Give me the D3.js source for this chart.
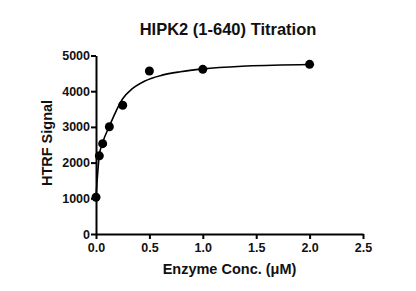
<!DOCTYPE html>
<html>
<head>
<meta charset="utf-8">
<script src="https://cdn.jsdelivr.net/npm/d3@7"></script>
<style>
  body { margin: 0; background: #fff; }
  svg text { font-family: "Liberation Sans", Arial, sans-serif; font-weight: bold; fill: #111; }
</style>
</head>
<body>
<svg width="416" height="291"></svg>
<script>
// measured points
const conc = [0, 0.03125, 0.0625, 0.125, 0.25, 0.5, 1, 2];
const signal = [1030, 2190, 2530, 3005, 3605, 4566, 4613, 4753];

// fitted curve
const fitX = [0, 0.031, 0.0625, 0.125, 0.25, 0.34, 0.46, 0.62, 0.79, 1.0, 1.41, 2.0];
const fitY = [1030, 2200, 2560, 3020, 3790, 4070, 4290, 4450, 4546, 4625, 4705, 4750];

const xTicks = [0, 0.5, 1, 1.5, 2, 2.5];
const yTicks = [0, 1000, 2000, 3000, 4000, 5000];

const svg = d3.select('svg');
const margin = {left: 96, right: 53, top: 55.5, bottom: 57};
const width = 416 - margin.left - margin.right;
const height = 291 - margin.top - margin.bottom;

const x = d3.scaleLinear().domain([0, 2.5]).range([0, width]);
const y = d3.scaleLinear().domain([0, 5000]).range([height, 0]);

const g = svg.append('g')
  .attr('transform', `translate(${margin.left},${margin.top})`);

const xAxis = g.append('g')
  .attr('transform', `translate(0,${height})`)
  .call(d3.axisBottom(x).tickValues(xTicks).tickFormat(d3.format('.1f'))
    .tickSize(5).tickSizeOuter(0).tickPadding(4));

const yAxis = g.append('g')
  .call(d3.axisLeft(y).tickValues(yTicks).tickFormat(d => d)
    .tickSize(5).tickSizeOuter(0).tickPadding(1));

[xAxis, yAxis].forEach(a => {
  a.select('.domain').attr('stroke', '#000').attr('stroke-width', 2);
  a.selectAll('.tick line').attr('stroke', '#000').attr('stroke-width', 2);
  a.selectAll('.tick text').style('font-size', '12.5px').attr('fill', '#111');
});

const line = d3.line()
  .x((d, i) => x(fitX[i]))
  .y(d => y(d))
  .curve(d3.curveMonotoneX);

g.append('path')
  .attr('d', line(fitY))
  .attr('fill', 'none')
  .attr('stroke', '#000')
  .attr('stroke-width', 1.6);

g.selectAll('circle').data(conc)
  .enter().append('circle')
    .attr('cx', d => x(d))
    .attr('cy', (d, i) => y(signal[i]))
    .attr('r', 4.5)
    .attr('fill', '#000');

svg.append('text')
  .attr('x', 228).attr('y', 35)
  .attr('text-anchor', 'middle')
  .style('font-size', '16.5px')
  .text('HIPK2 (1-640) Titration');

svg.append('text')
  .attr('x', margin.left + width / 2).attr('y', 274)
  .attr('text-anchor', 'middle')
  .style('font-size', '14.5px')
  .text('Enzyme Conc. (μM)');

svg.append('text')
  .attr('transform', 'translate(52,143) rotate(-90)')
  .attr('text-anchor', 'middle')
  .style('font-size', '14.5px')
  .text('HTRF Signal');
</script>
</body>
</html>
